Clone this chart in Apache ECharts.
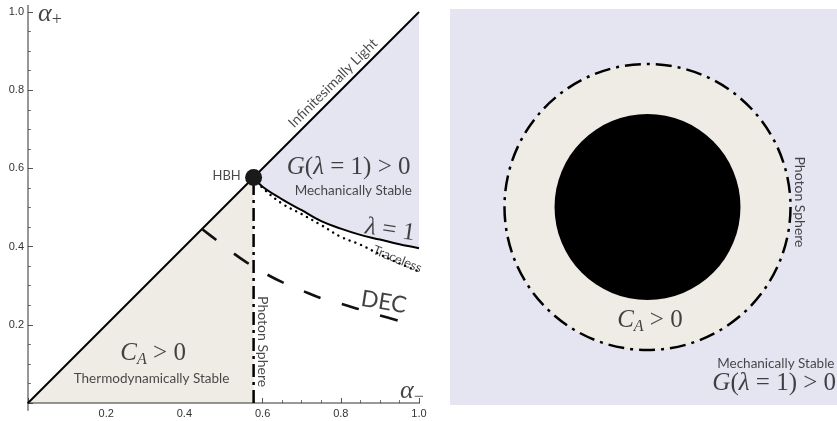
<!DOCTYPE html>
<html>
<head>
<meta charset="utf-8">
<script src="https://cdn.jsdelivr.net/npm/echarts@6/dist/echarts.min.js"></script>
<style>
  html, body { margin: 0; padding: 0; background: #ffffff; }
  #chart { width: 837px; height: 421px; }
</style>
</head>
<body>
<div id="chart"></div>
<script>
// Hairy black hole phase diagram in the (alpha-, alpha+) plane.
const hbhPoint = [0.577, 0.577];
const diagonalAlpha = [0, 1];

// lambda = 1 mechanical stability boundary
const lambdaOneMinus = [0.577, 0.60, 0.65, 0.70, 0.75, 0.80, 0.85, 0.90, 0.95, 1.00];
const lambdaOnePlus  = [0.577, 0.553, 0.521, 0.493, 0.465, 0.446, 0.430, 0.418, 0.406, 0.396];

// traceless stress-tensor curve (dotted)
const tracelessMinus = [0.577, 0.60, 0.65, 0.70, 0.75, 0.80, 0.85, 0.90, 0.95, 1.00];
const tracelessPlus  = [0.577, 0.550, 0.510, 0.483, 0.455, 0.425, 0.405, 0.380, 0.357, 0.336];

// dominant energy condition curve (dashed)
const decMinus = [0.445, 0.48, 0.52, 0.56, 0.60, 0.65, 0.70, 0.75, 0.80, 0.853, 0.90, 0.96];
const decPlus  = [0.445, 0.418, 0.387, 0.359, 0.335, 0.309, 0.288, 0.268, 0.254, 0.238, 0.224, 0.207];

// photon sphere location (vertical line)
const photonSphereMinus = 0.577;

// tick labels
const tickLabels = ['0.2', '0.4', '0.6', '0.8', '1.0'];

// schematic panel: radii relative to the photon sphere
const photonSphereRadius = 1.0;
const horizonRadius = 0.65;

const zip = (xs, ys) => xs.map((x, i) => [x, ys[i]]);

const LAVENDER = '#e5e5f1';
const BEIGE = '#efece5';
const SANS = 'Lato, "Open Sans", sans-serif';
const SERIF = '"Liberation Serif", "DejaVu Serif", serif';

const mathRich = {
  m:   { fontFamily: SERIF, fontSize: 25, color: '#151515' },
  it:  { fontFamily: SERIF, fontSize: 25, fontStyle: 'italic', color: '#151515' },
  sub: { fontFamily: SERIF, fontSize: 16, fontStyle: 'italic', color: '#151515', padding: [13, 0, 0, 0] },
  am:  { fontFamily: SERIF, fontSize: 26, fontStyle: 'italic', color: '#151515' },
  subm:{ fontFamily: SERIF, fontSize: 18, color: '#151515', padding: [12, 0, 0, 0] }
};

function note(value, text, opts) {
  return {
    value: value,
    label: Object.assign({
      show: true,
      position: 'inside',
      formatter: text,
      color: '#1a1a1a',
      fontFamily: SANS,
      fontSize: 13,
      rich: mathRich
    }, opts || {})
  };
}

const chart = echarts.init(document.getElementById('chart'));

const option = {
  animation: false,
  backgroundColor: '#ffffff',
  grid: [
    { left: 28, top: 12, width: 391, height: 391, show: false },
    { left: 450, top: 9, right: 0, bottom: 16, show: true, backgroundColor: LAVENDER, borderWidth: 0 }
  ],
  xAxis: [
    {
      type: 'value', gridIndex: 0, min: 0, max: 1, interval: 0.2,
      axisLine: { show: false },
      axisTick: { show: true, inside: true, length: 5, lineStyle: { color: '#555', width: 1 } },
      minorTick: { show: true, splitNumber: 4, length: 3, lineStyle: { color: '#777', width: 1 } },
      splitLine: { show: false },
      axisLabel: {
        showMinLabel: false, margin: 5, color: '#333', fontSize: 11,
        fontFamily: '"Liberation Sans", Arial, sans-serif',
        formatter: v => tickLabels[Math.round(v * 5) - 1] || ''
      }
    },
    { type: 'value', gridIndex: 1, min: -1.381, max: 1.325, show: false }
  ],
  yAxis: [
    {
      type: 'value', gridIndex: 0, min: 0, max: 1, interval: 0.2,
      axisLine: { show: false },
      axisTick: { show: true, inside: true, length: 5, lineStyle: { color: '#555', width: 1 } },
      minorTick: { show: true, splitNumber: 4, length: 3, lineStyle: { color: '#777', width: 1 } },
      splitLine: { show: false },
      axisLabel: {
        showMinLabel: false, margin: 4, color: '#333', fontSize: 11,
        fontFamily: '"Liberation Sans", Arial, sans-serif',
        formatter: v => tickLabels[Math.round(v * 5) - 1] || ''
      }
    },
    { type: 'value', gridIndex: 1, min: -1.385, max: 1.385, show: false }
  ],
  series: [
    // shaded regions of the phase diagram
    {
      type: 'custom', xAxisIndex: 0, yAxisIndex: 0, z: 1, silent: true,
      data: [[0]],
      renderItem: function (params, api) {
        const mech = zip(lambdaOneMinus, lambdaOnePlus).map(p => api.coord(p));
        mech.push(api.coord([diagonalAlpha[1], diagonalAlpha[1]]));
        const thermo = [
          api.coord([diagonalAlpha[0], diagonalAlpha[0]]),
          api.coord(hbhPoint),
          api.coord([photonSphereMinus, 0])
        ];
        return {
          type: 'group',
          children: [
            { type: 'polygon', shape: { points: mech }, style: { fill: LAVENDER } },
            { type: 'polygon', shape: { points: thermo }, style: { fill: BEIGE } }
          ]
        };
      }
    },
    // coordinate axes through the origin
    {
      type: 'line', xAxisIndex: 0, yAxisIndex: 0, clip: false, silent: true, symbol: 'none', z: 2,
      data: [[-0.02, 0], [1.02, 0]],
      lineStyle: { color: '#333', width: 1 }
    },
    {
      type: 'line', xAxisIndex: 0, yAxisIndex: 0, clip: false, silent: true, symbol: 'none', z: 2,
      data: [[0, -0.02], [0, 1.018]],
      lineStyle: { color: '#333', width: 1 }
    },
    // infinitesimally light boundary
    {
      type: 'line', xAxisIndex: 0, yAxisIndex: 0, symbol: 'none', z: 3, silent: true,
      data: diagonalAlpha.map(a => [a, a]),
      lineStyle: { color: '#000', width: 2 }
    },
    // lambda = 1
    {
      type: 'line', xAxisIndex: 0, yAxisIndex: 0, symbol: 'none', z: 3, silent: true,
      smooth: 0.4,
      data: zip(lambdaOneMinus, lambdaOnePlus),
      lineStyle: { color: '#000', width: 2 }
    },
    // traceless
    {
      type: 'line', xAxisIndex: 0, yAxisIndex: 0, symbol: 'none', z: 3, silent: true,
      smooth: 0.4,
      data: zip(tracelessMinus, tracelessPlus),
      lineStyle: { color: '#000', width: 2.4, type: [0.1, 6], cap: 'round' }
    },
    // DEC
    {
      type: 'line', xAxisIndex: 0, yAxisIndex: 0, symbol: 'none', z: 3, silent: true,
      smooth: 0.4,
      data: zip(decMinus, decPlus),
      lineStyle: { color: '#111', width: 2.6, type: [18, 22] }
    },
    // photon sphere
    {
      type: 'line', xAxisIndex: 0, yAxisIndex: 0, symbol: 'none', z: 3, silent: true,
      data: [[photonSphereMinus, 0], hbhPoint],
      lineStyle: { color: '#000', width: 2.5, type: [13, 5, 3, 5] }
    },
    // HBH point
    {
      type: 'scatter', xAxisIndex: 0, yAxisIndex: 0, z: 5, silent: true,
      symbolSize: 17,
      itemStyle: { color: '#1a1a1a', opacity: 1 },
      data: [hbhPoint]
    },
    // annotations, left panel
    {
      type: 'scatter', xAxisIndex: 0, yAxisIndex: 0, z: 6, silent: true,
      symbolSize: 1, itemStyle: { color: 'transparent' },
      data: [
        note([0.780, 0.818], 'Infinitesimally Light', { rotate: 45, fontSize: 14 }),
        note([0.508, 0.581], 'HBH', { fontSize: 13 }),
        note([0.820, 0.602], '{it|G}{m|(}{it|λ}{m| = 1) > 0}'),
        note([0.832, 0.543], 'Mechanically Stable', { fontSize: 13.5 }),
        note([0.926, 0.442], '{it|λ}{m| = 1}', { rotate: -8 }),
        note([0.945, 0.368], 'Traceless', { rotate: -22, fontSize: 13 }),
        note([0.910, 0.258], 'DEC', { rotate: -9, fontSize: 23, color: '#111' }),
        note([0.600, 0.157], 'Photon Sphere', { rotate: -90, fontSize: 14 }),
        note([0.320, 0.128], '{it|C}{sub|A}{m| > 0}'),
        note([0.316, 0.063], 'Thermodynamically Stable', { fontSize: 13.5 }),
        note([0.056, 0.995], '{am|α}{subm|+}'),
        note([0.982, 0.031], '{am|α}{subm|−}')
      ]
    },
    // schematic: photon sphere and horizon
    {
      type: 'custom', xAxisIndex: 1, yAxisIndex: 1, z: 2, silent: true,
      data: [[0, 0, photonSphereRadius], [0, 0, horizonRadius]],
      renderItem: function (params, api) {
        const c = api.coord([api.value(0), api.value(1)]);
        const r = api.size([api.value(2), 0])[0];
        const outer = params.dataIndex === 0;
        return {
          type: 'circle',
          shape: { cx: c[0], cy: c[1], r: r },
          style: outer
            ? { fill: BEIGE, stroke: '#000', lineWidth: 2.5, lineDash: [16, 6, 3, 6] }
            : { fill: '#000' }
        };
      }
    },
    // annotations, right panel
    {
      type: 'scatter', xAxisIndex: 1, yAxisIndex: 1, z: 6, silent: true,
      symbolSize: 1, itemStyle: { color: 'transparent' },
      data: [
        note([0.017, -0.79], '{it|C}{sub|A}{m| > 0}'),
        note([1.062, 0.035], 'Photon Sphere', { rotate: -90, fontSize: 14 }),
        note([1.311, -1.093], 'Mechanically Stable', { fontSize: 13.5, position: 'left', distance: 0 }),
        note([1.322, -1.233], '{it|G}{m|(}{it|λ}{m| = 1) > 0}', { position: 'left', distance: 0 })
      ]
    }
  ]
};

chart.setOption(option);
</script>
</body>
</html>
